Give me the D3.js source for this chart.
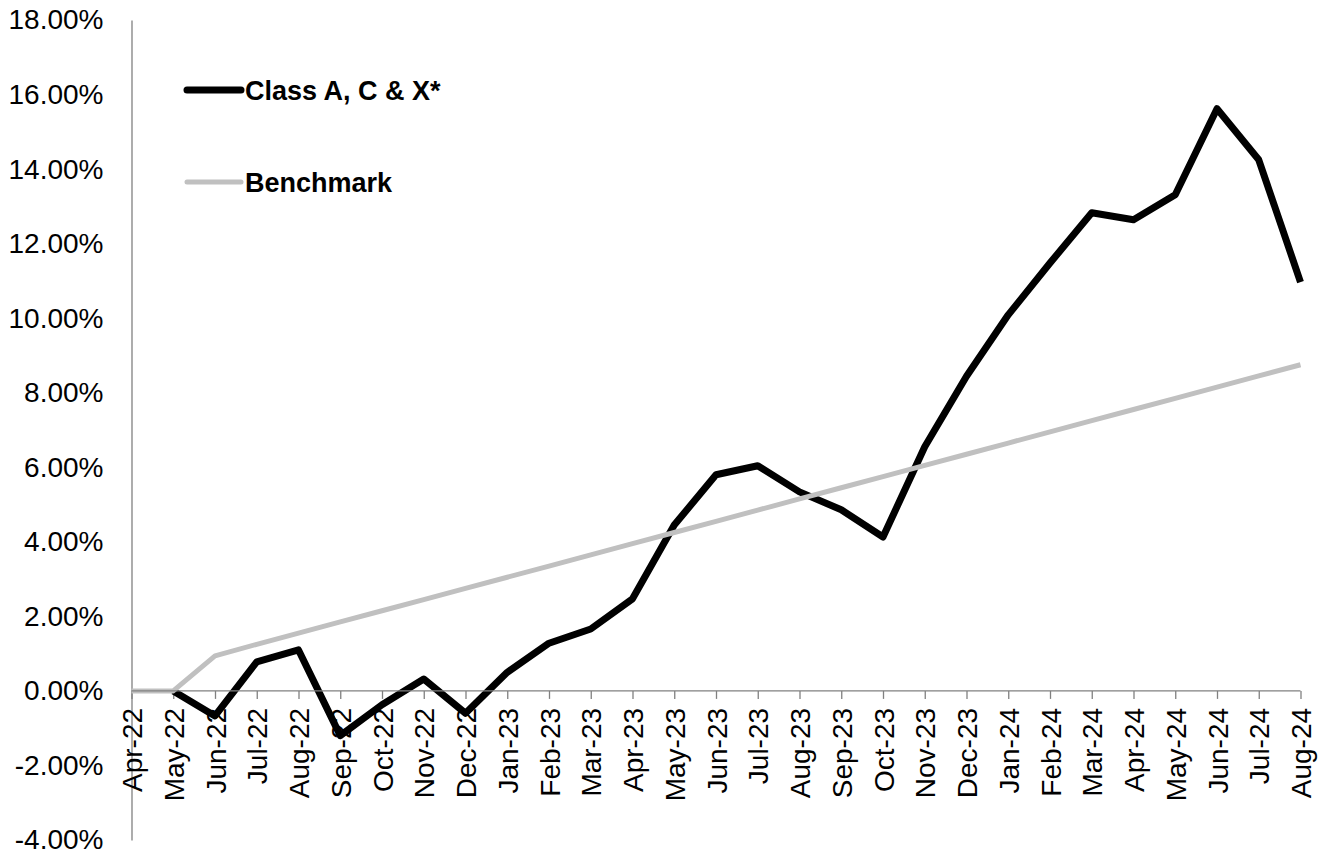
<!DOCTYPE html>
<html>
<head>
<meta charset="utf-8">
<script src="https://cdn.jsdelivr.net/npm/d3@7"></script>
<style>
  body { margin: 0; background: #fff; }
  text { font-family: "Liberation Sans", Arial, sans-serif; }
</style>
</head>
<body>
<div id="chart"></div>
<script>
var months = ["Apr-22","May-22","Jun-22","Jul-22","Aug-22","Sep-22","Oct-22","Nov-22","Dec-22",
  "Jan-23","Feb-23","Mar-23","Apr-23","May-23","Jun-23","Jul-23","Aug-23","Sep-23","Oct-23","Nov-23","Dec-23",
  "Jan-24","Feb-24","Mar-24","Apr-24","May-24","Jun-24","Jul-24","Aug-24"];

// Class A, C & X* cumulative return (%), first month not shown
var classValues = [null, 0, -0.67, 0.78, 1.10, -1.20, -0.37, 0.32, -0.60,
  0.50, 1.28, 1.66, 2.47, 4.45, 5.80, 6.04, 5.34, 4.86, 4.13, 6.55, 8.44,
  10.09, 11.48, 12.83, 12.64, 13.31, 15.62, 14.25, 10.97];

// Benchmark cumulative return (%)
var benchValues = [0, 0, 0.94, 1.25, 1.55, 1.85, 2.15, 2.45, 2.75,
  3.05, 3.35, 3.65, 3.95, 4.25, 4.55, 4.85, 5.15, 5.45, 5.75, 6.05, 6.35,
  6.65, 6.95, 7.25, 7.55, 7.85, 8.15, 8.45, 8.75];

var yTicks = [-4, -2, 0, 2, 4, 6, 8, 10, 12, 14, 16, 18];
var seriesNames = ["Class A, C & X*", "Benchmark"];

var W = 1333, H = 856;
var svg = d3.select("#chart")
  .append("svg")
    .attr("width", W)
    .attr("height", H);

var x = d3.scalePoint()
  .domain(months)
  .range([131.5, 1300.5]);

var y = d3.scaleLinear()
  .domain([-4, 18])
  .range([840, 20]);

// y axis
var yAxis = svg.append("g")
  .attr("transform", "translate(131.5,0)")
  .call(d3.axisLeft(y).tickValues(yTicks).tickSize(0).tickPadding(28)
    .tickFormat(function(d) { return d.toFixed(2) + "%"; }));
yAxis.select(".domain").attr("stroke", "#808080").attr("stroke-width", 1.3);
yAxis.selectAll("text")
  .attr("font-size", 28)
  .attr("fill", "#000")
  .style("font-family", "'Liberation Sans', Arial, sans-serif");

// x axis at zero
var xAxis = svg.append("g")
  .attr("transform", "translate(0," + y(0) + ")")
  .call(d3.axisBottom(x).tickSize(8).tickSizeOuter(0));
xAxis.selectAll(".tick line").attr("stroke", "#808080").attr("stroke-width", 1.3);
xAxis.select(".domain").remove();
xAxis.selectAll("text")
  .attr("font-size", 28)
  .attr("fill", "#000")
  .attr("text-anchor", "end")
  .attr("transform", "rotate(-90)")
  .attr("x", -17)
  .attr("y", 0)
  .attr("dy", "0.36em")
  .style("font-family", "'Liberation Sans', Arial, sans-serif");

var line = d3.line()
  .defined(function(d) { return d != null; })
  .x(function(d, i) { return x(months[i]); })
  .y(function(d) { return y(d); });

svg.append("path")
  .datum(classValues)
  .attr("fill", "none")
  .attr("stroke", "#000")
  .attr("stroke-width", 7)
  .attr("stroke-linejoin", "round")
  .attr("d", line);

svg.append("path")
  .datum(benchValues)
  .attr("fill", "none")
  .attr("stroke", "#c0c0c0")
  .attr("stroke-width", 5)
  .attr("stroke-linejoin", "round")
  .attr("d", line);

// zero line drawn over the series
svg.append("line")
  .attr("x1", x.range()[0]).attr("x2", x.range()[1])
  .attr("y1", y(0)).attr("y2", y(0))
  .attr("stroke", "#808080")
  .attr("stroke-width", 1.3);

// legend
var legend = svg.append("g");
var legendRows = [
  {name: seriesNames[0], color: "#000", width: 7, ly: 90},
  {name: seriesNames[1], color: "#c0c0c0", width: 5, ly: 182}
];
legendRows.forEach(function(r) {
  legend.append("line")
    .attr("x1", 187).attr("x2", 241)
    .attr("y1", r.ly).attr("y2", r.ly)
    .attr("stroke", r.color)
    .attr("stroke-width", r.width)
    .attr("stroke-linecap", "round");
  legend.append("text")
    .attr("x", 245)
    .attr("y", r.ly)
    .attr("dy", "0.36em")
    .attr("font-size", 27)
    .attr("font-weight", "bold")
    .text(r.name);
});
</script>
</body>
</html>
